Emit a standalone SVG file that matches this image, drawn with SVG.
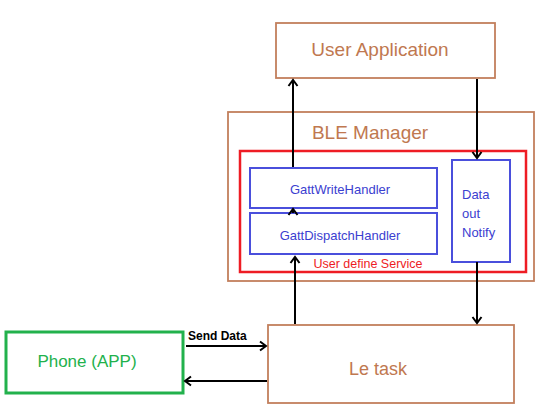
<svg xmlns="http://www.w3.org/2000/svg" width="554" height="417" viewBox="0 0 554 417">
<style>
.brown{fill:#ffffff;stroke:#c27f5c;stroke-width:1.8}
.red{fill:none;stroke:#ee1c24;stroke-width:2.5}
.blue{fill:#ffffff;stroke:#4a4fdc;stroke-width:2}
.green{fill:#ffffff;stroke:#22b14c;stroke-width:3}
.tb{font-family:"Liberation Sans",Arial,sans-serif;fill:#c07850;text-anchor:middle}
.tblue{font-family:"Liberation Sans",Arial,sans-serif;fill:#3b40d0;font-size:13px}
.conn line{stroke:#000000;stroke-width:2;fill:none}
</style>
<defs>
<marker id="arr" markerUnits="userSpaceOnUse" markerWidth="12" markerHeight="12" viewBox="-8 -6 10 12" refX="0" refY="0" orient="auto">
<path d="M-6,-4.5 L0,0 L-6,4.5" fill="none" stroke="#000000" stroke-width="2"/>
</marker>
</defs>
<rect width="554" height="417" fill="#ffffff"/>
<g id="user-application">
<rect class="brown" x="276" y="23" width="219" height="55"/>
<text class="tb" x="380" y="56" font-size="19">User Application</text>
</g>
<g id="ble-manager">
<rect class="brown" x="228" y="112" width="306" height="169"/>
<text class="tb" x="370" y="139" font-size="19">BLE Manager</text>
</g>
<g id="user-define-service">
<rect class="red" x="240" y="151" width="286" height="121"/>
<text x="368" y="268" font-family="Liberation Sans,Arial,sans-serif" font-size="12.5" fill="#ee1c24" text-anchor="middle">User define Service</text>
</g>
<g id="gatt-write-handler">
<rect class="blue" x="250" y="168" width="187" height="40"/>
<text class="tblue" x="340" y="194" text-anchor="middle">GattWriteHandler</text>
</g>
<g id="gatt-dispatch-handler">
<rect class="blue" x="250" y="213" width="187" height="41"/>
<text class="tblue" x="340" y="240" text-anchor="middle">GattDispatchHandler</text>
</g>
<g id="data-out-notify">
<rect class="blue" x="452" y="160" width="58" height="102"/>
<text class="tblue" x="462" y="199" font-size="13.5">Data</text>
<text class="tblue" x="462" y="218" font-size="13.5">out</text>
<text class="tblue" x="462" y="237" font-size="13.5">Notify</text>
</g>
<g id="le-task">
<rect class="brown" x="268" y="325" width="246" height="78"/>
<text class="tb" x="378" y="375" font-size="18">Le task</text>
</g>
<g id="phone-app">
<rect class="green" x="6" y="332" width="177" height="61"/>
<text x="87" y="367" font-family="Liberation Sans,Arial,sans-serif" font-size="17" fill="#22b14c" text-anchor="middle">Phone (APP)</text>
</g>
<g id="connectors" class="conn">
<line x1="293" y1="167" x2="293" y2="80" marker-end="url(#arr)"/>
<line x1="293" y1="213" x2="293" y2="209" marker-end="url(#arr)"/>
<line x1="295" y1="324" x2="295" y2="257" marker-end="url(#arr)"/>
<line x1="477" y1="79" x2="477" y2="158" marker-end="url(#arr)"/>
<line x1="477" y1="262" x2="477" y2="323" marker-end="url(#arr)"/>
<line x1="186" y1="346" x2="266" y2="346" marker-end="url(#arr)"/>
<line x1="267" y1="381" x2="185" y2="381" marker-end="url(#arr)"/>
<text x="188" y="340" font-family="Liberation Sans,Arial,sans-serif" font-size="12" font-weight="bold" fill="#000000">Send Data</text>
</g>
</svg>
